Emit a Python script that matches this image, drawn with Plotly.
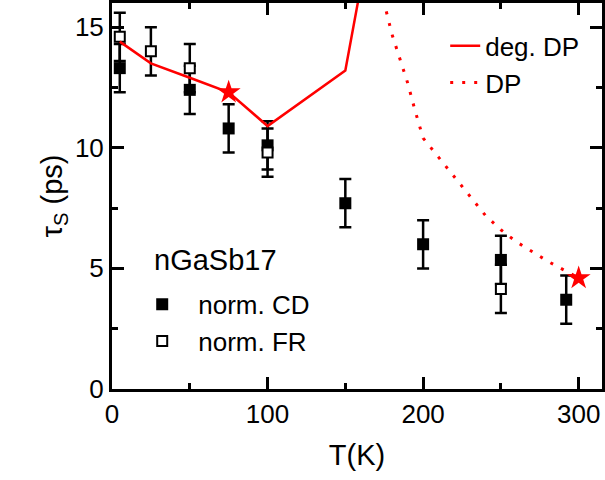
import plotly.graph_objects as go

# Measured data
T_cd = [5, 50, 75, 100, 150, 200, 250, 292]
tau_cd = [13.3, 12.4, 10.8, 10.1, 7.7, 6.0, 5.35, 3.7]
err_cd = [1.0, 1.0, 1.0, 1.0, 1.0, 1.0, 1.0, 1.0]

T_fr = [5, 25, 50, 100, 250]
tau_fr = [14.6, 14.0, 13.3, 9.8, 4.15]
err_fr = [1.0, 1.0, 1.0, 1.0, 1.0]

# Theory curves
T_deg = [5, 25, 50, 75, 100, 150, 200]
tau_deg = [14.4, 13.5, 12.9, 12.3, 10.9, 13.2, 30.7]

T_dp = [170, 175, 180, 185, 190, 195, 200, 210, 220, 230, 240, 250, 260, 270, 280, 290, 300]
tau_dp = [17.6, 16.0, 14.7, 13.7, 12.7, 11.5, 10.4, 9.6, 8.8, 8.0, 7.2, 6.6, 6.1, 5.7, 5.3, 4.95, 4.6]

T_star = [75, 300]
tau_star = [12.3, 4.6]

FONT = "Liberation Sans, Arial, sans-serif"

fig = go.Figure()

fig.add_trace(go.Scatter(
    x=T_cd, y=tau_cd, mode="markers", name="norm. CD", legend="legend2",
    marker=dict(symbol="square", size=12, color="black"),
    error_y=dict(type="data", array=err_cd, color="black", thickness=2.5, width=6),
))
fig.add_trace(go.Scatter(
    x=T_fr, y=tau_fr, mode="markers", name="norm. FR", legend="legend2",
    marker=dict(symbol="square", size=10, color="white", line=dict(color="black", width=2)),
    error_y=dict(type="data", array=err_fr, color="black", thickness=2.5, width=6),
))
fig.add_trace(go.Scatter(
    x=T_deg, y=tau_deg, mode="lines", name="deg. DP", legend="legend",
    line=dict(color="#ff0000", width=2.5),
))
fig.add_trace(go.Scatter(
    x=T_dp, y=tau_dp, mode="lines", name="DP", legend="legend",
    line=dict(color="#ff0000", width=3, dash="3px,9px"),
))
fig.add_trace(go.Scatter(
    x=T_star, y=tau_star, mode="markers", showlegend=False,
    marker=dict(symbol="star", size=18, color="#ff0000"),
))

fig.add_annotation(
    x=0.082, y=0.333, xref="paper", yref="paper", xanchor="left", yanchor="middle",
    text="nGaSb17", showarrow=False, font=dict(size=29, color="black", family=FONT),
)

axis_common = dict(
    showline=True, linewidth=3, linecolor="black", mirror="ticks",
    ticks="inside", ticklen=12, tickwidth=2.5, tickcolor="black",
    showgrid=False, zeroline=False,
    tickfont=dict(size=26, color="black", family=FONT),
)

fig.update_layout(
    width=605, height=480,
    margin=dict(l=112, r=3, t=0, b=91),
    paper_bgcolor="white", plot_bgcolor="white",
    font=dict(family=FONT, color="black"),
    xaxis=dict(
        range=[0, 315], dtick=100, tick0=0,
        minor=dict(dtick=50, ticks="inside", ticklen=6, tickwidth=2.5, tickcolor="black"),
        title=dict(text="T(K)", font=dict(size=29), standoff=17),
        **axis_common,
    ),
    yaxis=dict(
        range=[0, 16], dtick=5, tick0=0,
        minor=dict(dtick=2.5, ticks="inside", ticklen=6, tickwidth=2.5, tickcolor="black"),
        title=dict(text="τ<sub>S</sub> (ps)", font=dict(size=29), standoff=4),
        **axis_common,
    ),
    legend=dict(
        x=0.68, y=0.95, xanchor="left", yanchor="top",
        bgcolor="rgba(0,0,0,0)", font=dict(size=26, family=FONT),
        tracegroupgap=0,
    ),
    legend2=dict(
        x=0.029, y=0.28, xanchor="left", yanchor="top",
        bgcolor="rgba(0,0,0,0)", font=dict(size=26, family=FONT),
        tracegroupgap=0, itemwidth=62,
    ),
)

fig.write_html("out.html")
